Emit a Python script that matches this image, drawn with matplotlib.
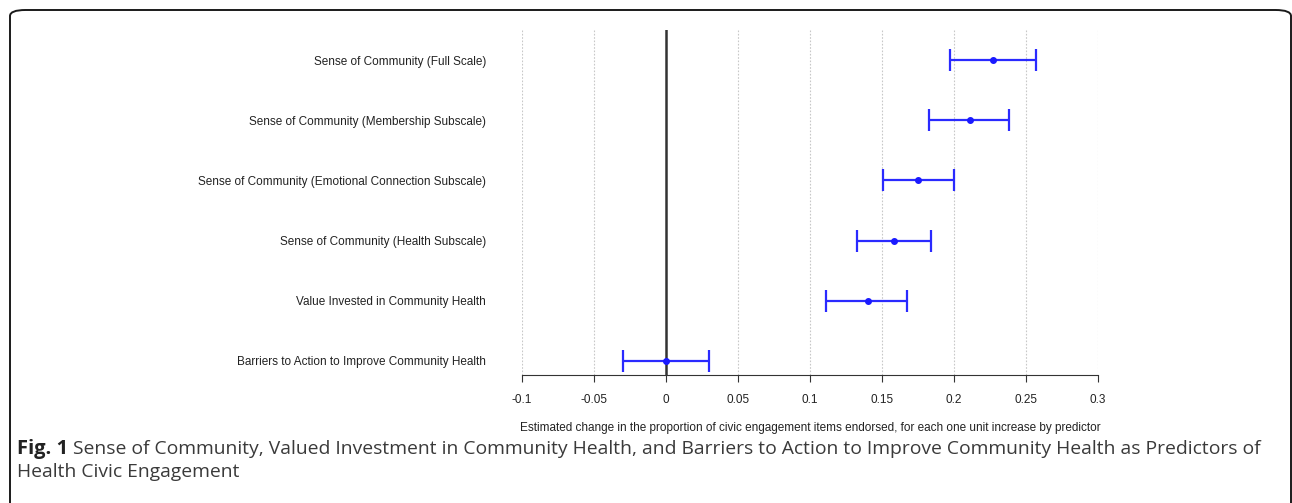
import matplotlib
matplotlib.use("Agg")
import matplotlib.pyplot as plt
from matplotlib.patches import FancyBboxPatch

labels = [
    "Sense of Community (Full Scale)",
    "Sense of Community (Membership Subscale)",
    "Sense of Community (Emotional Connection Subscale)",
    "Sense of Community (Health Subscale)",
    "Value Invested in Community Health",
    "Barriers to Action to Improve Community Health",
]
estimates = [0.227, 0.211, 0.175, 0.158, 0.140, 0.000]
lower = [0.1975, 0.1825, 0.1505, 0.1325, 0.1112, -0.0297]
upper = [0.257, 0.2385, 0.200, 0.1837, 0.1677, 0.0298]
xticks = [-0.1, -0.05, 0, 0.05, 0.1, 0.15, 0.2, 0.25, 0.3]
xticklabels = ["-0.1", "-0.05", "0", "0.05", "0.1", "0.15", "0.2", "0.25", "0.3"]
xlabel = "Estimated change in the proportion of civic engagement items endorsed, for each one unit increase by predictor"
cap_bold = "Fig. 1"
cap_line1 = " Sense of Community, Valued Investment in Community Health, and Barriers to Action to Improve Community Health as Predictors of"
cap_line2 = "Health Civic Engagement"

W, H = 1292, 503
fig = plt.figure(figsize=(W / 100, H / 100), dpi=100)
plt.rcParams['font.family'] = ['Liberation Sans', 'DejaVu Sans']

# border (right and bottom run off the picture)
border = FancyBboxPatch((10 / W, -30 / H), 1281 / W, 523 / H,
                        boxstyle="round,pad=0,rounding_size=0.012",
                        transform=fig.transFigure, fill=False,
                        edgecolor='#1a1a1a', linewidth=1.4)
fig.patches.append(border)

ax = fig.add_axes([522 / W, 1 - 375 / H, 576 / W, 345 / H])
n = len(labels)
ypos = list(range(n, 0, -1))

for xt in xticks:
    if xt != 0:
        ax.axvline(xt, color='#c8c8c8', linestyle=(0, (1.5, 1.5)), linewidth=0.8, zorder=0)
ax.axvline(0, color='#333333', linewidth=1.8, zorder=1)

xerr = [[e - l for e, l in zip(estimates, lower)], [u - e for e, u in zip(estimates, upper)]]
ax.errorbar(estimates, ypos, xerr=xerr, fmt='o', color='#1a1aff', ecolor='#2a2aff',
            markersize=4, elinewidth=1.6, capsize=8, capthick=1.6, zorder=3)

ax.set_xlim(-0.1, 0.3)
ax.set_ylim(1 - 14 / 60, n + 0.5)
ax.set_xticks(xticks)
ax.set_xticklabels(xticklabels, fontsize=8.5, color='#222222')
ax.set_yticks(ypos)
ax.set_yticklabels(labels, fontsize=8.5, color='#222222')
ax.tick_params(axis='y', length=0, pad=26)
ax.tick_params(axis='x', length=5, width=0.8, color='#333333', pad=9)
for s in ['top', 'right', 'left']:
    ax.spines[s].set_visible(False)
ax.spines['bottom'].set_color('#333333')
ax.spines['bottom'].set_linewidth(0.8)
ax.set_xlabel(xlabel, fontsize=8.5, labelpad=11, color='#222222')

# caption
cap_font = ['Open Sans', 'DejaVu Sans']
t1 = fig.text(17 / W, 1 - 449 / H, cap_bold, fontsize=14.5, fontweight='bold',
              family=cap_font, va='center', ha='left', color='#222222')
fig.canvas.draw()
bb = t1.get_window_extent(renderer=fig.canvas.get_renderer())
fig.text(bb.x1 / W, 1 - 449 / H, cap_line1, fontsize=13.9, fontweight='normal',
         family=cap_font, va='center', ha='left', color='#3a3a3a')
fig.text(17 / W, 1 - 472 / H, cap_line2, fontsize=13.9, fontweight='normal',
         family=cap_font, va='center', ha='left', color='#3a3a3a')

fig.savefig("out.png", dpi=100)
